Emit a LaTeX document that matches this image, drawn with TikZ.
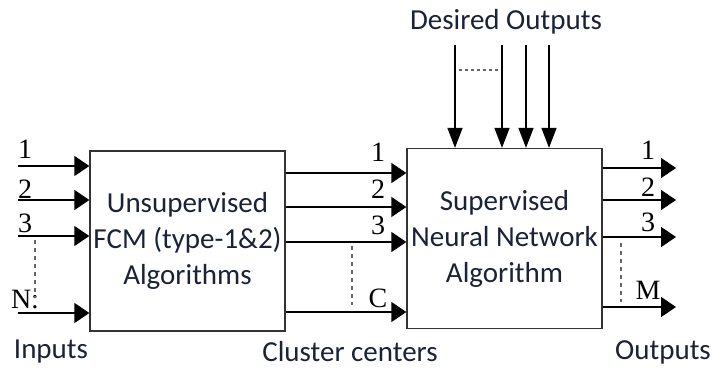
\documentclass[tikz,border=0pt]{standalone}
\usepackage{fontspec}
\setmainfont{Carlito}
\newfontfamily\numfont{Liberation Serif}
\usetikzlibrary{arrows.meta,positioning}
\definecolor{txtblue}{HTML}{1A2238}

\newcommand*{\inx}{18}
\newcommand*{\outx}{676}
\newcommand*{\dtop}{45}

\begin{document}
\begin{tikzpicture}
[
	x=1pt,
	y=-1pt,
	block/.style={draw=black!80,line width=1.3pt,inner sep=0pt,minimum width=195pt,minimum height=180pt,align=center,text=txtblue,font=\fontsize{29}{36}\selectfont},
	lbl/.style={text=txtblue,font=\fontsize{29}{30}\selectfont,inner sep=0pt},
	num/.style={font=\numfont\fontsize{28}{28}\selectfont,inner sep=0pt},
	harr/.style={line width=1.5pt,-{Triangle[length=15pt,width=20pt]}},
	varr/.style={line width=1.5pt,-{Triangle[length=20pt,width=15pt]}},
	dots/.style={draw=black!60,line width=2pt,dash pattern=on 4pt off 4pt}
]
	\useasboundingbox (0,0) rectangle (713,369);

	% blocks
	\node[block] (fcm) at (187.5,241) {Unsupervised\\FCM (type-1\&2)\\Algorithms};
	\node[block] (nn) at (504.5,238.5) {Supervised\\Neural Network\\Algorithm};

	% inputs
	\foreach \y/\t/\ly [count=\i] in {166/1/149,200/2/189,236/3/223,313/N:/300}
	{
		\coordinate (in\i) at (\inx,\y);
		\draw[harr] (in\i) -- (in\i -| fcm.west);
		\node[num] (inl\i) at (25,\ly) {\t};
	}
	\draw[dots] (35,240) -- (35,298);

	% cluster centers
	\foreach \y/\t/\ly [count=\i] in {173/1/152,207/2/189,242/3/225,312/C/298}
	{
		\coordinate (cc\i) at (fcm.east |- 0,\y);
		\draw[harr] (cc\i) -- (cc\i -| nn.west);
		\node[num] (ccl\i) at (378,\ly) {\t};
	}
	\draw[dots] (352,246) -- (352,305);

	% outputs
	\foreach \y/\t/\ly [count=\i] in {168/1/150,200/2/187,237/3/222,307/M/290}
	{
		\coordinate (out\i) at (nn.east |- 0,\y);
		\coordinate (oute\i) at (\outx,\y);
		\draw[harr] (out\i) -- (oute\i);
		\node[num] (outl\i) at (648,\ly) {\t};
	}
	\draw[dots] (621,243) -- (621,302);

	% desired outputs
	\foreach \x [count=\i] in {455,502,526,549}
	{
		\coordinate (des\i) at (\x,\dtop);
		\draw[varr] (des\i) -- (des\i |- nn.north);
	}
	\draw[dots,dash pattern=on 3pt off 3pt] (459,70) -- (500,70);

	% captions
	\node[lbl] (desired) at (506,22) {Desired Outputs};
	\node[lbl] (inputs) at (51,352) {Inputs};
	\node[lbl] (centers) at (350,352) {Cluster centers};
	\node[lbl] (outputs) at (663,352) {Outputs};

\end{tikzpicture}
\end{document}
